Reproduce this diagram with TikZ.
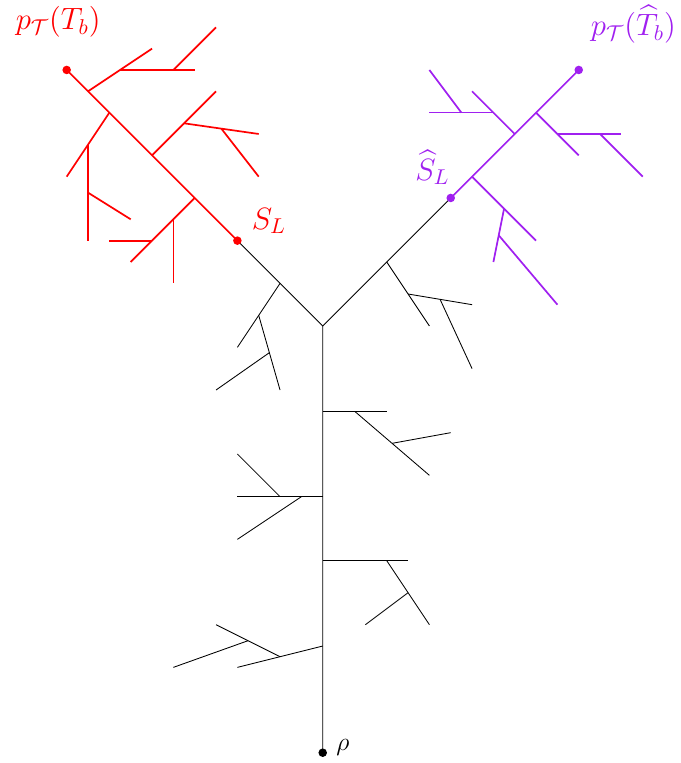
\documentclass[tikz,border=0pt]{standalone}
\usepackage{amssymb}
\usepackage{mathtools}
\usetikzlibrary{arrows}
\definecolor{treepurple}{RGB}{160,32,240}
\tikzset{redpart/.style={red,thick},purplepart/.style={treepurple,thick}}

\begin{document}
\begin{tikzpicture}[>=latex,scale=0.7]
\useasboundingbox (-7.563,-0.241) rectangle (8.374,17.64);
\coordinate (rho) at (0,0);
\coordinate (fork) at (0,10);
\coordinate (SL) at (-2,12);
\coordinate (hSL) at (3,13);
\coordinate (pT) at (-6,16);
\coordinate (hpT) at (6,16);
% black part
\draw (rho) -- (fork) -- (SL);
\draw (fork) -- (hSL);
\draw (-1,11) -- (-2,9.5);
\draw (-1.5,10.25) -- (-1,8.5);
\draw (-1.25,9.375) -- (-2.5,8.5);
\draw (1.5,11.5) -- (2.5,10);
\draw (2,10.75) -- (3.5,10.5);
\draw (2.75,10.625) -- (3.5,9);
\draw (0,8) -- (1.5,8);
\draw (0.75,8) -- (2.5,6.5);
\draw (1.625,7.25) -- (3,7.5);
\draw (0,6) -- (-2,6);
\draw (-1,6) -- (-2,7);
\draw (-0.5,6) -- (-2,5);
\draw (0,4.5) -- (2,4.5);
\draw (1.5,4.5) -- (2.5,3);
\draw (2,3.75) -- (1,3);
\draw (0,2.5) -- (-2,2);
\draw (-1,2.25) -- (-2.5,3);
\draw (-1.75,2.625) -- (-3.5,2);
% red part
\draw[redpart] (SL) -- (pT);
\draw[redpart] (-5.5,15.5) -- (-4,16.5);
\draw[redpart] (-4.75,16) -- (-3,16);
\draw[redpart] (-3.5,16) -- (-2.5,17);
\draw[redpart] (-5,15) -- (-6,13.5);
\draw[redpart] (-5.5,14.25) -- (-5.5,12);
\draw[redpart] (-5.5,13.125) -- (-4.5,12.5);
\draw[redpart] (-4,14) -- (-2.5,15.5);
\draw[redpart] (-3.25,14.75) -- (-1.5,14.5);
\draw[redpart] (-2.375,14.625) -- (-1.5,13.5);
\draw[redpart] (-3,13) -- (-4.5,11.5);
\draw[redpart] (-3.5,12.5) -- (-3.5,11);
\draw[redpart] (-4,12) -- (-5,12);
% purple part
\draw[purplepart] (hSL) -- (hpT);
\draw[purplepart] (5,15) -- (6,14);
\draw[purplepart] (5.5,14.5) -- (7,14.5);
\draw[purplepart] (6.5,14.5) -- (7.5,13.5);
\draw[purplepart] (4.5,14.5) -- (3.5,15.5);
\draw[purplepart] (4,15) -- (2.5,15);
\draw[purplepart] (3.25,15) -- (2.5,16);
\draw[purplepart] (3.5,13.5) -- (5,12);
\draw[purplepart] (4.25,12.75) -- (4,11.5);
\draw[purplepart] (4.125,12.125) -- (5.5,10.5);
% dots and labels
\fill (rho) circle (0.1);
\fill[red] (SL) circle (0.1);
\fill[red] (pT) circle (0.1);
\fill[treepurple] (hSL) circle (0.1);
\fill[treepurple] (hpT) circle (0.1);
\node[anchor=base] (rholab) at (0.47,0.05) {\large $\rho$};
\node[anchor=base,red] (SLlab) at (-1.26,12.27) {\Large $S_L$};
\node[anchor=base,red] (pTlab) at (-6.2,16.95) {\Large $p_{\mathcal{T}}(T_b)$};
\node[anchor=base,treepurple] (hSLlab) at (2.57,13.42) {\Large $\widehat{S}_L$};
\node[anchor=base,treepurple] (hpTlab) at (7.28,16.81) {\Large $p_{\mathcal{T}}(\widehat{T}_b)$};
\end{tikzpicture}
\end{document}
